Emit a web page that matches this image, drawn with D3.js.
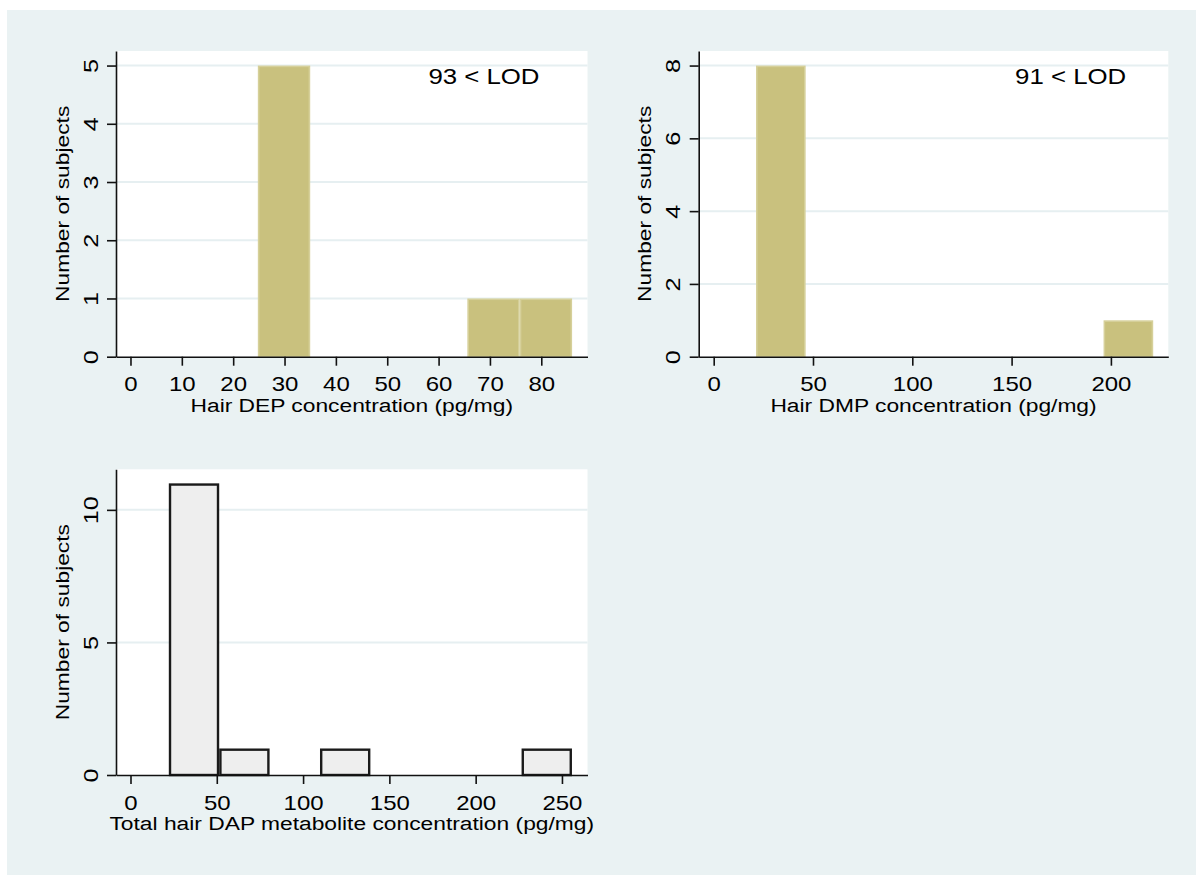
<!DOCTYPE html>
<html>
<head>
<meta charset="utf-8">
<script src="https://cdn.jsdelivr.net/npm/d3@7"></script>
<style>
  html, body { margin: 0; padding: 0; background: #ffffff; }
  svg { display: block; }
  text { font-family: "Liberation Sans", Arial, sans-serif; fill: #000; }
</style>
</head>
<body>
<svg id="chart" width="1203" height="878"></svg>
<script>
// ---------- data ----------
const depEdges = [24.8, 35.0, 45.2, 55.4, 65.6, 75.8, 86.0];
const depCounts = [5, 0, 0, 0, 1, 1];
const depXTicks = [0, 10, 20, 30, 40, 50, 60, 70, 80];
const depYTicks = [0, 1, 2, 3, 4, 5];
const depNote = "93 < LOD";
const depTitle = "Hair DEP concentration (pg/mg)";

const dmpEdges = [21.3, 46.3, 71.3, 96.3, 121.3, 146.3, 171.3, 196.3, 221.3];
const dmpCounts = [8, 0, 0, 0, 0, 0, 0, 1];
const dmpXTicks = [0, 50, 100, 150, 200];
const dmpYTicks = [0, 2, 4, 6, 8];
const dmpNote = "91 < LOD";
const dmpTitle = "Hair DMP concentration (pg/mg)";

const dapEdges = [22.2, 51.4, 80.6, 109.8, 139.0, 168.2, 197.4, 226.6, 255.8];
const dapCounts = [11, 1, 0, 1, 0, 0, 0, 1];
const dapXTicks = [0, 50, 100, 150, 200, 250];
const dapYTicks = [0, 5, 10];
const dapTitle = "Total hair DAP metabolite concentration (pg/mg)";

const yTitle = "Number of subjects";

// ---------- drawing ----------
const SX = 1.2;           // reference glyphs are wide relative to their height
const TICK_FS = 20, TITLE_FS = 19, NOTE_FS = 21.5;

const svg = d3.select("#chart");
const BG = "#eaf2f3";
svg.append("rect").attr("x", 7).attr("y", 10).attr("width", 1189).attr("height", 865).attr("fill", BG);

function panel(opt) {
  const x = d3.scaleLinear().domain(opt.xDomain).range([opt.left, opt.right]);
  const y = d3.scaleLinear().domain(opt.yDomain).range([opt.bottom, opt.top]);
  const g = svg.append("g");

  g.append("rect").attr("x", opt.left).attr("y", opt.top)
    .attr("width", opt.right - opt.left).attr("height", opt.bottom - opt.top)
    .attr("fill", "#ffffff");

  // gridlines
  g.selectAll("line.grid").data(opt.yTicks.filter(d => d !== 0)).join("line")
    .attr("class", "grid")
    .attr("x1", opt.left).attr("x2", opt.right)
    .attr("y1", d => y(d)).attr("y2", d => y(d))
    .attr("stroke", "#e6eff1").attr("stroke-width", 2);

  // bars
  const bins = opt.counts.map((c, i) => ({ x0: opt.edges[i], x1: opt.edges[i + 1], n: c })).filter(b => b.n > 0);
  const sw = opt.strokeWidth;
  g.selectAll("rect.bar").data(bins).join("rect")
    .attr("class", "bar")
    .attr("x", d => x(d.x0) + sw / 2)
    .attr("y", d => y(d.n) + sw / 2)
    .attr("width", d => x(d.x1) - x(d.x0) - sw)
    .attr("height", d => y(0) - y(d.n) - sw / 2)
    .attr("fill", opt.fill).attr("stroke", opt.stroke).attr("stroke-width", sw);

  // x axis
  const xa = g.append("g").attr("transform", `translate(0,${opt.bottom})`)
    .call(d3.axisBottom(x).tickValues(opt.xTicks).tickSize(9).tickSizeOuter(0).tickFormat(d3.format("d")));
  xa.selectAll("text").attr("y", 0).attr("dy", 0)
    .attr("transform", `translate(0,34.5) scale(${SX},1)`)
    .style("font-size", TICK_FS + "px");

  // y axis
  const ya = g.append("g").attr("transform", `translate(${opt.left},0)`)
    .call(d3.axisLeft(y).tickValues(opt.yTicks).tickSize(9).tickSizeOuter(0).tickFormat(d3.format("d")));
  ya.selectAll("text").attr("x", 0).attr("dy", 0).attr("text-anchor", "middle")
    .attr("transform", `translate(-18.3,0) rotate(-90) scale(${SX},1)`)
    .style("font-size", (TICK_FS + 1) + "px");

  [xa, ya].forEach(a => {
    a.select(".domain").attr("stroke", "#111").attr("stroke-width", 1.6);
    a.selectAll(".tick line").attr("stroke", "#111").attr("stroke-width", 1.6);
    a.attr("font-family", null).attr("font-size", null);
  });

  // axis titles
  g.append("text")
    .attr("transform", `translate(${(opt.left + opt.right) / 2},${opt.bottom + 55.3}) scale(${SX},1)`)
    .attr("text-anchor", "middle").style("font-size", TITLE_FS + "px").text(opt.xTitle);
  g.append("text")
    .attr("transform", `translate(${opt.left - 47.3},${(opt.top + opt.bottom) / 2}) rotate(-90) scale(${SX},1)`)
    .attr("text-anchor", "middle").style("font-size", TITLE_FS + "px").text(yTitle);

  if (opt.note) {
    g.append("text")
      .attr("transform", `translate(${opt.noteX},${opt.top + 32.5}) scale(${SX},1)`)
      .attr("text-anchor", "end").style("font-size", NOTE_FS + "px").text(opt.note);
  }
}

panel({
  edges: depEdges, counts: depCounts, xTicks: depXTicks, yTicks: depYTicks,
  xDomain: [-2.82, 89.0], yDomain: [0, 5.25],
  left: 116, right: 587.5, top: 51, bottom: 356.7,
  fill: "#c9c17e", stroke: "#d6d09a", strokeWidth: 1.6,
  xTitle: depTitle, note: depNote, noteX: 539.5
});

panel({
  edges: dmpEdges, counts: dmpCounts, xTicks: dmpXTicks, yTicks: dmpYTicks,
  xDomain: [-7.55, 228.9], yDomain: [0, 8.4],
  left: 698.7, right: 1168.3, top: 51, bottom: 356.7,
  fill: "#c9c17e", stroke: "#d6d09a", strokeWidth: 1.6,
  xTitle: dmpTitle, note: dmpNote, noteX: 1126.2
});

panel({
  edges: dapEdges, counts: dapCounts, xTicks: dapXTicks, yTicks: dapYTicks,
  xDomain: [-8.4, 264.8], yDomain: [0, 11.53],
  left: 116, right: 587.5, top: 469.3, bottom: 775,
  fill: "#eeeeee", stroke: "#1a1a1a", strokeWidth: 2.4,
  xTitle: dapTitle
});
</script>
</body>
</html>
